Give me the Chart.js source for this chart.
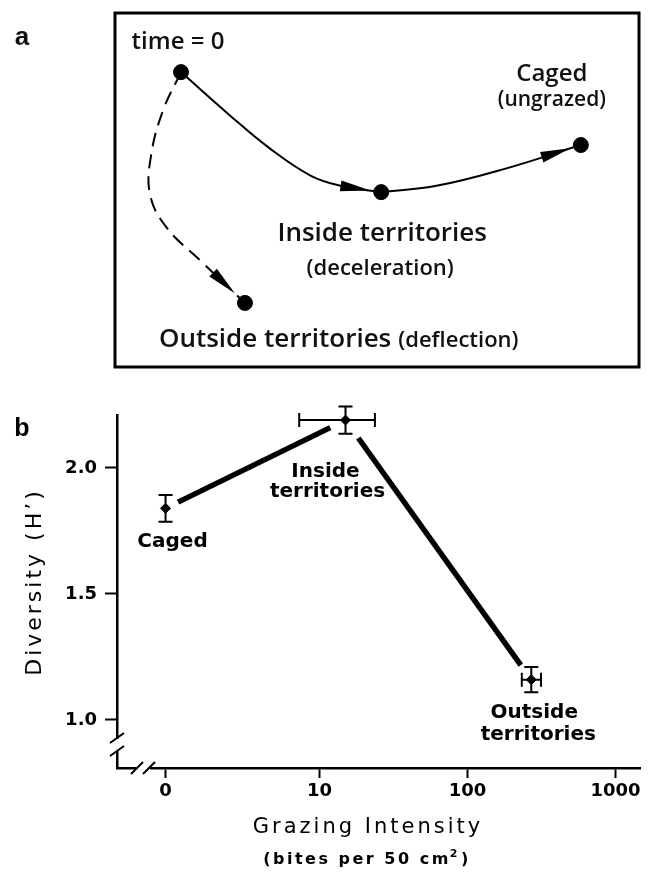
<!DOCTYPE html>
<html>
<head>
<meta charset="utf-8">
<script src="https://cdn.jsdelivr.net/npm/chart.js@4.4.0/dist/chart.umd.min.js"></script>
<style>
  body { margin: 0; background: #fff; }
  canvas { position: absolute; left: 0; }
  #trajectory { top: 0; }
  #grazing { top: 380px; }
</style>
</head>
<body>
<canvas id="trajectory" width="650" height="380"></canvas>
<canvas id="grazing" width="650" height="505"></canvas>
<script>
// panel a - community states in diagram units (0-100 each way)
const stateNames = ["time = 0", "Inside territories", "Caged", "Outside territories"];
const stateNotes = ["", "(deceleration)", "(ungrazed)", "(deflection)"];
const stateX = [12.6, 50.8, 88.9, 24.8];
const stateY = [83.3, 49.4, 62.7, 18.1];

const insidePathX = [12.6, 21.6, 29.4, 37.4, 43.3, 50.8];
const insidePathY = [83.3, 71.5, 61.9, 54.0, 51.1, 49.4];
const cagedPathX = [50.8, 61.1, 74.2, 88.9];
const cagedPathY = [49.4, 51.1, 55.9, 62.7];
const outsidePathX = [12.6, 9.2, 6.9, 6.7, 9.9, 16.2, 24.8];
const outsidePathY = [83.3, 72.6, 59.9, 48.6, 39.3, 30.2, 18.1];

// panel b - diversity vs grazing intensity
const groups = ["Caged", "Inside territories", "Outside territories"];
const groupLines = [["Caged"], ["Inside", "territories"], ["Outside", "territories"]];
const grazing = [0, 15, 270];
const grazingLow = [0, 7.3, 233];
const grazingHigh = [0, 23.7, 314];
const diversity = [1.84, 2.19, 1.16];
const diversitySE = [0.053, 0.054, 0.05];
const xTickLabels = ["0", "10", "100", "1000"];
const xTickPos = [-0.04, 1, 2, 3];
const yTicks = [1.0, 1.5, 2.0];

const pts = (xs, ys) => xs.map((x, i) => ({ x, y: ys[i] }));
// zero grazing sits on the "0" tick past the axis break
const posX = (g) => (g > 0 ? Math.log10(g) : xTickPos[0]);

const arrowHeads = {
  id: "arrowHeads",
  afterDatasetsDraw(chart) {
    const { ctx } = chart;
    chart.data.datasets.forEach((ds, i) => {
      if (!ds.arrowGap) return;
      const els = chart.getDatasetMeta(i).data;
      const end = els[els.length - 1];
      const prev = els[els.length - 2];
      const d = Math.hypot(end.x - prev.x, end.y - prev.y);
      const ux = (end.x - prev.x) / d;
      const uy = (end.y - prev.y) / d;
      const tx = end.x - ux * ds.arrowGap;
      const ty = end.y - uy * ds.arrowGap;
      const bx = tx - ux * 30;
      const by = ty - uy * 30;
      ctx.save();
      ctx.fillStyle = "#000";
      ctx.beginPath();
      ctx.moveTo(tx, ty);
      ctx.lineTo(bx - uy * 5.5, by + ux * 5.5);
      ctx.lineTo(bx + uy * 5.5, by - ux * 5.5);
      ctx.closePath();
      ctx.fill();
      ctx.restore();
    });
  },
};

const frameA = {
  id: "frameA",
  afterDraw(chart) {
    const {
      ctx,
      chartArea: { left, top, right, bottom },
      scales: { x, y },
    } = chart;
    const px = (i) => x.getPixelForValue(stateX[i]);
    const py = (i) => y.getPixelForValue(stateY[i]);
    ctx.save();
    ctx.lineWidth = 3;
    ctx.strokeStyle = "#000";
    ctx.strokeRect(left, top, right - left, bottom - top);

    ctx.fillStyle = "#111";
    ctx.textAlign = "center";
    ctx.textBaseline = "middle";
    ctx.font = "bold 26px 'Liberation Sans'";
    ctx.fillText("a", 22, 38);

    ctx.font = "600 24px 'Open Sans'";
    ctx.fillText(stateNames[0], px(0) - 3, py(0) - 30);

    ctx.font = "600 24px 'Open Sans'";
    ctx.fillText(stateNames[2], px(2) - 29, py(2) - 71);
    ctx.font = "600 21px 'Open Sans'";
    ctx.fillText(stateNotes[2], px(2) - 29, py(2) - 45);

    ctx.font = "600 26px 'Open Sans'";
    ctx.fillText(stateNames[1], px(1) + 1, py(1) + 41);
    ctx.font = "600 22px 'Open Sans'";
    ctx.fillText(stateNotes[1], px(1) - 1, py(1) + 77);

    ctx.textAlign = "left";
    const ox = px(3) - 86;
    const oy = py(3) + 37;
    ctx.font = "600 26px 'Open Sans'";
    ctx.fillText(stateNames[3], ox, oy);
    const w = ctx.measureText(stateNames[3]).width;
    ctx.font = "600 22px 'Open Sans'";
    ctx.fillText(stateNotes[3], ox + w + 7, oy + 1);
    ctx.restore();
  },
};

const pathStyle = {
  showLine: true,
  tension: 0.4,
  borderColor: "#000",
  borderWidth: 2,
  pointRadius: 0,
};

new Chart(document.getElementById("trajectory"), {
  type: "scatter",
  data: {
    datasets: [
      { ...pathStyle, data: pts(insidePathX, insidePathY), arrowGap: 11 },
      { ...pathStyle, data: pts(cagedPathX, cagedPathY), arrowGap: 11 },
      { ...pathStyle, data: pts(outsidePathX, outsidePathY), borderDash: [14, 8], arrowGap: 14 },
      {
        data: pts(stateX, stateY),
        pointRadius: 7.5,
        backgroundColor: "#000",
        borderColor: "#000",
      },
    ],
  },
  options: {
    responsive: false,
    animation: false,
    events: [],
    layout: { padding: { left: 115, top: 13, right: 11, bottom: 13 } },
    scales: {
      x: { display: false, min: 0, max: 100 },
      y: { display: false, min: 0, max: 100 },
    },
    plugins: { legend: { display: false }, tooltip: { enabled: false } },
  },
  plugins: [arrowHeads, frameA],
});

// gaps left at each end of the thick connecting lines (px)
const linkGaps = [[14, 17], [22, 18]];
const labelOffsets = [[[7, 33]], [[-20, 52], [-18, 72]], [[3, 33], [7, 55]]];

const errorBars = {
  id: "errorBars",
  afterDatasetsDraw(chart) {
    const {
      ctx,
      scales: { x, y },
    } = chart;
    const cx = groups.map((g, i) => x.getPixelForValue(posX(grazing[i])));
    const cy = groups.map((g, i) => y.getPixelForValue(diversity[i]));
    ctx.save();
    ctx.strokeStyle = "#000";
    ctx.lineWidth = 2;
    groups.forEach((g, i) => {
      const y0 = y.getPixelForValue(diversity[i] - diversitySE[i]);
      const y1 = y.getPixelForValue(diversity[i] + diversitySE[i]);
      ctx.beginPath();
      ctx.moveTo(cx[i], y0);
      ctx.lineTo(cx[i], y1);
      ctx.moveTo(cx[i] - 7, y0);
      ctx.lineTo(cx[i] + 7, y0);
      ctx.moveTo(cx[i] - 7, y1);
      ctx.lineTo(cx[i] + 7, y1);
      if (grazingLow[i] > 0) {
        const x0 = x.getPixelForValue(posX(grazingLow[i]));
        const x1 = x.getPixelForValue(posX(grazingHigh[i]));
        ctx.moveTo(x0, cy[i]);
        ctx.lineTo(x1, cy[i]);
        ctx.moveTo(x0, cy[i] - 7);
        ctx.lineTo(x0, cy[i] + 7);
        ctx.moveTo(x1, cy[i] - 7);
        ctx.lineTo(x1, cy[i] + 7);
      }
      ctx.stroke();
    });

    ctx.lineWidth = 5.5;
    for (let i = 0; i < groups.length - 1; i++) {
      const dx = cx[i + 1] - cx[i];
      const dy = cy[i + 1] - cy[i];
      const d = Math.hypot(dx, dy);
      const [g0, g1] = linkGaps[i];
      ctx.beginPath();
      ctx.moveTo(cx[i] + (dx / d) * g0, cy[i] + (dy / d) * g0);
      ctx.lineTo(cx[i + 1] - (dx / d) * g1, cy[i + 1] - (dy / d) * g1);
      ctx.stroke();
    }

    ctx.fillStyle = "#000";
    ctx.textAlign = "center";
    ctx.textBaseline = "middle";
    ctx.font = "bold 20px 'DejaVu Sans'";
    groupLines.forEach((lines, i) => {
      lines.forEach((t, j) => {
        const [ox, oy] = labelOffsets[i][j];
        ctx.fillText(t, cx[i] + ox, cy[i] + oy);
      });
    });
    ctx.restore();
  },
};

const axisDecor = {
  id: "axisDecor",
  afterDraw(chart) {
    const {
      ctx,
      chartArea: { left, bottom },
    } = chart;
    ctx.save();
    // axis breaks
    ctx.fillStyle = "#fff";
    ctx.fillRect(left - 4, bottom - 29, 8, 12);
    ctx.fillRect(left + 19, bottom - 4, 14, 8);
    ctx.strokeStyle = "#000";
    ctx.lineWidth = 2;
    ctx.beginPath();
    [bottom - 30, bottom - 17].forEach((yy) => {
      ctx.moveTo(left - 7, yy + 5);
      ctx.lineTo(left + 7, yy - 5);
    });
    [left + 20, left + 32].forEach((xx) => {
      ctx.moveTo(xx - 6, bottom + 6);
      ctx.lineTo(xx + 6, bottom - 6);
    });
    ctx.stroke();

    ctx.fillStyle = "#000";
    ctx.textAlign = "center";
    ctx.textBaseline = "middle";
    ctx.font = "bold 25px 'Liberation Sans'";
    ctx.fillText("b", 22, 49);

    ctx.letterSpacing = "3px";
    ctx.font = "21px 'DejaVu Sans'";
    ctx.fillText("Grazing Intensity", 368, 448);

    // second title line with a raised "2"
    ctx.letterSpacing = "2.5px";
    ctx.textAlign = "left";
    const unit = ["(bites per 50 cm", "2", ")"];
    ctx.font = "bold 16px 'DejaVu Sans'";
    const w0 = ctx.measureText(unit[0]).width;
    const w2 = ctx.measureText(unit[2]).width;
    ctx.font = "bold 11px 'DejaVu Sans'";
    const w1 = ctx.measureText(unit[1]).width;
    let tx = 367 - (w0 + w1 + w2) / 2;
    ctx.font = "bold 16px 'DejaVu Sans'";
    ctx.fillText(unit[0], tx, 480);
    ctx.font = "bold 11px 'DejaVu Sans'";
    ctx.fillText(unit[1], tx + w0 - 1, 474);
    ctx.font = "bold 16px 'DejaVu Sans'";
    ctx.fillText(unit[2], tx + w0 + w1, 480);

    ctx.textAlign = "center";
    ctx.letterSpacing = "3px";
    ctx.font = "22px 'DejaVu Sans'";
    ctx.translate(35, 202);
    ctx.rotate(-Math.PI / 2);
    ctx.fillText("Diversity (H’)", 0, 0);
    ctx.restore();
  },
};

const tickFont = { family: "DejaVu Sans", size: 18, weight: "bold" };
const axisLine = { color: "#000", width: 2.5 };

new Chart(document.getElementById("grazing"), {
  type: "scatter",
  data: {
    datasets: [
      {
        data: groups.map((g, i) => ({ x: posX(grazing[i]), y: diversity[i] })),
        pointStyle: "rectRot",
        pointRadius: 5,
        backgroundColor: "#000",
        borderColor: "#000",
      },
    ],
  },
  options: {
    responsive: false,
    animation: false,
    events: [],
    layout: { padding: { left: 0, top: 35, right: 10, bottom: 0 } },
    scales: {
      x: {
        type: "linear",
        min: -0.368,
        max: 3.166,
        afterFit: (s) => { s.height = 117; },
        afterBuildTicks: (s) => { s.ticks = xTickPos.map((v) => ({ value: v })); },
        ticks: {
          callback: (v, i) => xTickLabels[i],
          font: tickFont,
          color: "#000",
          padding: 3,
          maxRotation: 0,
          autoSkip: false,
        },
        grid: { drawOnChartArea: false, tickLength: 10, tickWidth: 2, tickColor: "#000" },
        border: axisLine,
      },
      y: {
        min: 0.8095,
        max: 2.2103,
        afterFit: (s) => { s.width = 117; },
        afterBuildTicks: (s) => { s.ticks = yTicks.map((v) => ({ value: v })); },
        ticks: {
          callback: (v) => v.toFixed(1),
          font: tickFont,
          color: "#000",
          padding: 8,
        },
        grid: { drawOnChartArea: false, tickLength: 12, tickWidth: 2, tickColor: "#000" },
        border: axisLine,
      },
    },
    plugins: { legend: { display: false }, tooltip: { enabled: false } },
  },
  plugins: [errorBars, axisDecor],
});
</script>
</body>
</html>
